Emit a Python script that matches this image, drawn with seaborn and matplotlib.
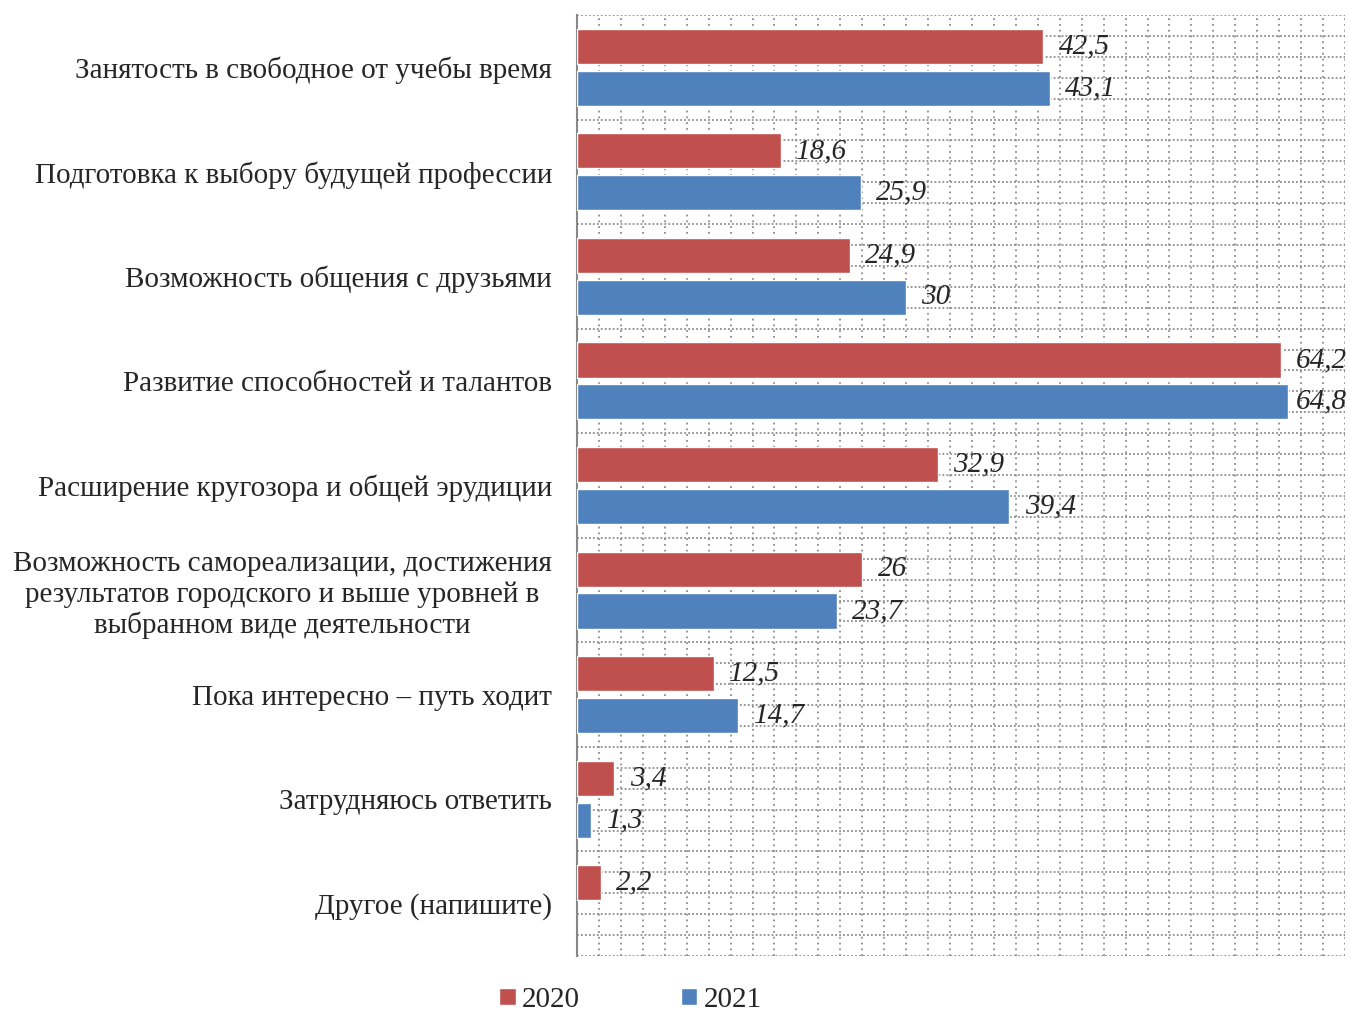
import numpy as np
import pandas as pd
import seaborn as sns
import matplotlib.pyplot as plt
from matplotlib.patches import Patch

categories = [
    "Занятость в свободное от учебы время",
    "Подготовка к выбору будущей профессии",
    "Возможность общения с друзьями",
    "Развитие способностей и талантов",
    "Расширение кругозора и общей эрудиции",
    "Возможность самореализации, достижения\nрезультатов городского и выше уровней в\nвыбранном виде деятельности",
    "Пока интересно – путь ходит",
    "Затрудняюсь ответить",
    "Другое (напишите)",
]
values_2020 = [42.5, 18.6, 24.9, 64.2, 32.9, 26, 12.5, 3.4, 2.2]
values_2021 = [43.1, 25.9, 30, 64.8, 39.4, 23.7, 14.7, 1.3, np.nan]
years = ["2020", "2021"]
colors = ["#C0504D", "#4F81BD"]

df = pd.DataFrame({
    "category": categories * 2,
    "value": values_2020 + values_2021,
    "year": [years[0]] * len(categories) + [years[1]] * len(categories),
})

sns.set_style("white")
plt.rcParams["font.family"] = ["Liberation Serif", "DejaVu Serif"]

fig = plt.figure(figsize=(13.5, 10.14), dpi=100)
ax = fig.add_axes([0.4274, 0.0572, 0.9963 - 0.4274, 0.9852 - 0.0572])

sns.barplot(data=df, y="category", x="value", hue="year", order=categories,
            hue_order=years, palette=colors, orient="h", width=0.8, gap=0.16,
            saturation=1, legend=False, ax=ax, zorder=3)

ax.set_xlim(0, 70)
ax.set_ylim(len(categories) - 0.5, -0.5)
ax.set_xticks(np.arange(0, 71, 2))
ax.set_yticks(np.arange(-0.5, len(categories) - 0.49, 0.2), minor=True)
ax.grid(True, which="major", axis="x", color="#8c8c8c", linestyle=(0, (1, 2.2)), linewidth=1.3, zorder=0)
ax.grid(True, which="minor", axis="y", color="#8c8c8c", linestyle=(0, (1, 1.2)), linewidth=1.3, zorder=0)
ax.set_axisbelow(True)
ax.tick_params(axis="x", labelbottom=False, length=0)
ax.tick_params(axis="y", which="both", length=0, labelsize=21, pad=18)
for lab in ax.get_yticklabels():
    lab.set_multialignment("center")
ax.set_xlabel("")
ax.set_ylabel("")
for s in ["top", "right", "bottom"]:
    ax.spines[s].set_visible(False)
ax.spines["left"].set_color("#888888")
ax.spines["left"].set_linewidth(1.5)

texts = []
for container in ax.containers:
    labels = [("" if np.isnan(v) else f"{v:g}".replace(".", ",")) for v in container.datavalues]
    texts += ax.bar_label(container, labels=labels, padding=11, fontsize=21, fontstyle="italic", zorder=4)

# pull labels that run past the right edge back inside (like Excel does)
fig.canvas.draw()
renderer = fig.canvas.get_renderer()
fig_w = fig.bbox.width
for t in texts:
    bb = t.get_window_extent(renderer)
    if bb.x1 > fig_w - 3:
        over_pt = (bb.x1 - (fig_w - 3)) * 72 / fig.dpi
        dx, dy = t.xyann
        t.xyann = (dx - over_pt, dy)

handles = [Patch(facecolor=c) for c in colors]
fig.legend(handles, years, loc="center", bbox_to_anchor=(0.467, 0.014), ncol=2, frameon=False,
           fontsize=21, handlelength=0.55, handleheight=0.55, handletextpad=0.2, columnspacing=3.5)

fig.savefig("out.png", dpi=100)
